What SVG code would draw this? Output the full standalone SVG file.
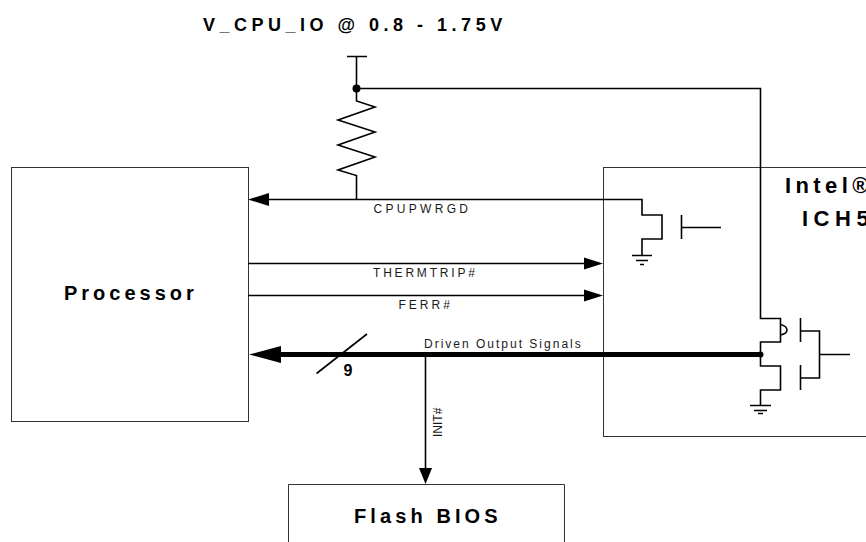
<svg xmlns="http://www.w3.org/2000/svg" width="866" height="542" viewBox="0 0 866 542">
<style>
.box{fill:#fff;stroke:#333;stroke-width:1}
.w{fill:none;stroke:#000;stroke-width:1.600}
.b{font-family:"Liberation Sans",Arial,sans-serif;font-weight:bold;fill:#000}
.s{font-family:"Liberation Sans",Arial,sans-serif;font-size:12px;fill:#1a1a1a}
</style>
<rect width="866" height="542" fill="#fff"/>
<g id="processor"><rect class="box" x="11.500" y="167.500" width="237" height="254"/><text class="b" x="64" y="300" font-size="20" letter-spacing="4">Processor</text></g>
<g id="ich5"><rect class="box" x="603.500" y="167.500" width="280" height="269"/><text class="b" x="785" y="193" font-size="22" letter-spacing="4.400">Intel®</text><text class="b" x="802" y="226" font-size="22" letter-spacing="5.500">ICH5</text></g>
<g id="flash"><path class="box" d="M288.500 542V484.500H564.500V542"/><text class="b" x="354" y="523" font-size="20" letter-spacing="4.100">Flash BIOS</text></g>
<g id="supply"><text class="b" x="203" y="31" font-size="18" letter-spacing="4.500">V_CPU_IO @ 0.8 - 1.75V</text></g>
<g id="connectors">
<path class="w" d="M347 56.500H367M356.500 56.500V101L375 107L338 120L375 132L338 145L375 157L338 170L356.500 175.500V199"/>
<circle cx="356.500" cy="88.500" r="4"/>
<path class="w" d="M356.500 88.500H760.500V318.500H780.500V342H760.500V365"/>
<path class="w" d="M780 324.500Q787 326 787 330Q787 334 780 335"/>
<path class="w" d="M268 199.500H642V215H662V239H642V256"/>
<path class="w" d="M632 255.500H652M636 260.500H648M640 264.500H644"/>
<path class="w" d="M681.500 215V239M681.500 227.500H721"/>
<path class="w" d="M800.500 318V342M800.500 365V390M800.500 331H819.500V378H800.500M819.500 354.500H850"/>
<path class="w" d="M760.500 365V366H780.500V390H760.500V405"/>
<path class="w" d="M750 405.500H771M754 410.500H767M758 413.500H763"/>
<path class="w" d="M248 263.500H585M248 295.500H585"/>
<path d="M248 199.500L269 193V206Z"/>
<path d="M603 263.500L584 257.500V269.500Z"/>
<path d="M603 295.500L584 289.500V301.500Z"/>
<path fill="none" stroke="#000" stroke-width="5" d="M270 354.500H760"/>
<circle cx="760.500" cy="354.500" r="3"/>
<path d="M249 354.500L281 346V363Z"/>
<path class="w" d="M316.500 373.500L367 334"/>
<path class="w" d="M425.500 354.500V470"/>
<path d="M425.500 484L419 468H432Z"/>
</g>
<g id="labels">
<text class="s" x="373.500" y="213" letter-spacing="3.300">CPUPWRGD</text>
<text class="s" x="373" y="277" letter-spacing="2.800">THERMTRIP#</text>
<text class="s" x="398.500" y="309" letter-spacing="3">FERR#</text>
<text class="s" x="424" y="348" letter-spacing="2">Driven Output Signals</text>
<text class="b" x="348" y="376" font-size="16" text-anchor="middle">9</text>
<text class="s" transform="translate(442 437) rotate(-90)">INIT#</text>
</g>
</svg>
